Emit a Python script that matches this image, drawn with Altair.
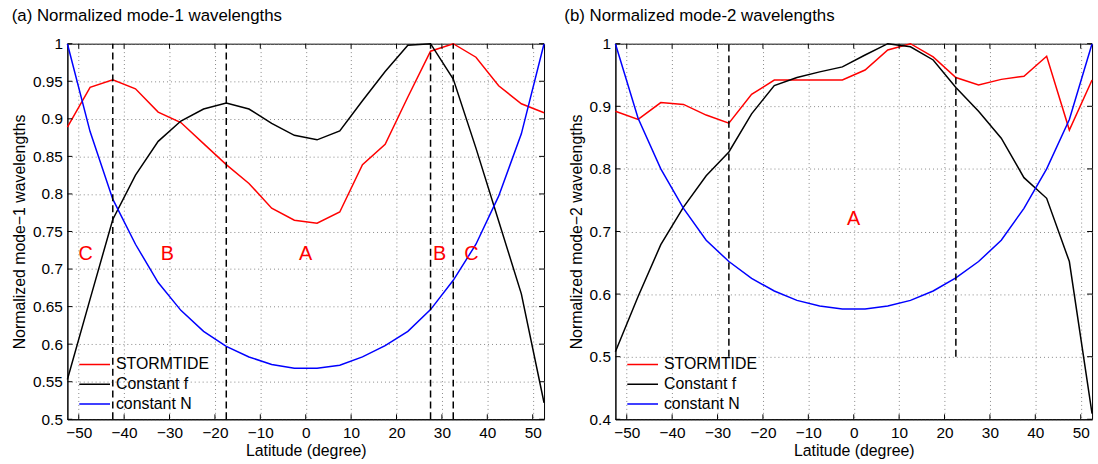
import altair as alt
import pandas as pd

# ---------------- data ----------------
latitude = [-52.5, -47.5, -42.5, -37.5, -32.5, -27.5, -22.5, -17.5, -12.5, -7.5, -2.5,
            2.5, 7.5, 12.5, 17.5, 22.5, 27.5, 32.5, 37.5, 42.5, 47.5, 52.5]

series_names = ["STORMTIDE", "Constant f", "constant N"]
series_colors = ["#ff0000", "#000000", "#0000ff"]

m1_stormtide = [0.889, 0.942, 0.952, 0.940, 0.909, 0.895, 0.867, 0.839, 0.814, 0.781, 0.765,
                0.761, 0.776, 0.839, 0.866, 0.929, 0.990, 1.000, 0.982, 0.944, 0.920, 0.908]
m1_constf = [0.553, 0.660, 0.766, 0.825, 0.870, 0.897, 0.913, 0.921, 0.913, 0.894, 0.878,
             0.872, 0.884, 0.924, 0.963, 0.998, 1.000, 0.953, 0.861, 0.764, 0.667, 0.522]
m1_constN = [1.000, 0.883, 0.793, 0.733, 0.682, 0.645, 0.617, 0.597, 0.583, 0.573, 0.568,
             0.568, 0.572, 0.583, 0.598, 0.617, 0.646, 0.685, 0.733, 0.797, 0.880, 1.000]

m2_stormtide = [0.892, 0.879, 0.906, 0.903, 0.886, 0.873, 0.919, 0.942, 0.942, 0.942, 0.942,
                0.958, 0.990, 1.000, 0.979, 0.946, 0.934, 0.943, 0.948, 0.980, 0.862, 0.942]
m2_constf = [0.508, 0.596, 0.679, 0.739, 0.789, 0.827, 0.888, 0.933, 0.946, 0.955, 0.963,
             0.982, 1.000, 0.995, 0.974, 0.930, 0.892, 0.849, 0.786, 0.753, 0.652, 0.409]
m2_constN = [1.000, 0.881, 0.800, 0.737, 0.686, 0.652, 0.625, 0.605, 0.590, 0.581, 0.576,
             0.576, 0.581, 0.590, 0.605, 0.626, 0.652, 0.686, 0.737, 0.800, 0.879, 1.000]

m1_dashed = [-42.5, -17.5, 27.5, 32.5]
m2_dashed = [-27.5, 22.5]
m2_dashed_range = [0.5, 1.0]

m1_region_lat = [-48.5, -30.5, 0.0, 29.5, 36.5]
m1_region_txt = ["C", "B", "A", "B", "C"]
m2_region_lat = [0.0]
m2_region_txt = ["A"]
region_y = 0.72

x_ticks = [-50, -40, -30, -20, -10, 0, 10, 20, 30, 40, 50]
m1_y_ticks = [0.5, 0.55, 0.6, 0.65, 0.7, 0.75, 0.8, 0.85, 0.9, 0.95, 1.0]
m2_y_ticks = [0.4, 0.5, 0.6, 0.7, 0.8, 0.9, 1.0]

FONT = "Liberation Sans"
W, H = 481, 379
TICK = 5


def panel(title, title_dx, s1, s2, s3, dashed, dash_lo, dash_hi, ydom, yticks, yfmt, ytitle,
          reg_lat, reg_txt):
    rows = []
    for name, vals in zip(series_names, [s1, s2, s3]):
        for la, v in zip(latitude, vals):
            rows.append({"lat": la, "value": v, "series": name})
    df = pd.DataFrame(rows)

    xscale = alt.Scale(domain=[-52.5, 52.5], nice=False, zero=False)
    yscale = alt.Scale(domain=ydom, nice=False, zero=False)

    xaxis = alt.Axis(values=x_ticks, title="Latitude (degree)", grid=True, ticks=False,
                     labelPadding=6, titlePadding=2, format="d")
    yaxis = alt.Axis(values=yticks, title=ytitle, grid=True, ticks=False,
                     labelPadding=5, titlePadding=5, format=yfmt)

    def X(f):
        return alt.X(f, scale=xscale, axis=xaxis)

    def Y(f):
        return alt.Y(f, scale=yscale, axis=yaxis)

    lines = alt.Chart(df).mark_line(strokeWidth=1.5).encode(
        x=X("lat:Q"),
        y=Y("value:Q"),
        color=alt.Color("series:N",
                        scale=alt.Scale(domain=series_names, range=series_colors),
                        legend=alt.Legend(title=None, orient="none", legendX=11, legendY=314,
                                          symbolType="stroke", symbolSize=961,
                                          symbolStrokeWidth=1.5, labelFontSize=16,
                                          labelFont=FONT, labelOffset=5, rowPadding=0,
                                          clipHeight=19.3,
                                          padding=0, labelColor="black")),
        order=alt.Order("lat:Q"),
    )

    ddf = pd.DataFrame({"lat": dashed,
                        "lo": [dash_lo] * len(dashed), "hi": [dash_hi] * len(dashed)})
    dash = alt.Chart(ddf).mark_rule(color="black", strokeWidth=1.5, strokeDash=[7, 4]).encode(
        x=X("lat:Q"),
        y=Y("lo:Q"),
        y2="hi:Q",
    )

    tdf = pd.DataFrame({"lat": reg_lat, "txt": reg_txt, "y": [region_y] * len(reg_lat)})
    text = alt.Chart(tdf).mark_text(color="#ff0000", fontSize=20, font=FONT,
                                    baseline="middle", align="center").encode(
        x=X("lat:Q"),
        y=Y("y:Q"),
        text="txt:N",
    )

    # inside tick marks (MATLAB style), drawn from the tick lists
    xt = pd.DataFrame({"t": x_ticks})
    yt = pd.DataFrame({"t": yticks})
    xb = alt.Chart(xt).mark_rule(color="black", strokeWidth=1).encode(
        x=X("t:Q"), y=alt.value(H), y2=alt.value(H - TICK))
    xtp = alt.Chart(xt).mark_rule(color="black", strokeWidth=1).encode(
        x=X("t:Q"), y=alt.value(0), y2=alt.value(TICK))
    yl = alt.Chart(yt).mark_rule(color="black", strokeWidth=1).encode(
        y=Y("t:Q"), x=alt.value(0), x2=alt.value(TICK))
    yr = alt.Chart(yt).mark_rule(color="black", strokeWidth=1).encode(
        y=Y("t:Q"), x=alt.value(W), x2=alt.value(W - TICK))

    return alt.layer(lines, dash, text, xb, xtp, yl, yr).properties(
        width=W, height=H,
        title=alt.Title(title, anchor="start", frame="bounds", fontSize=17, font=FONT,
                        fontWeight="normal", dx=title_dx, offset=11.5, color="black"),
    )


left = panel("(a) Normalized mode-1 wavelengths", 0, m1_stormtide, m1_constf, m1_constN,
             m1_dashed, 0.5, 1.0, [0.5, 1.0], m1_y_ticks, ".2~f",
             "Normalized mode\u22121 wavelengths", m1_region_lat, m1_region_txt)
right = panel("(b) Normalized mode-2 wavelengths", -4, m2_stormtide, m2_constf, m2_constN,
              m2_dashed, m2_dashed_range[0], m2_dashed_range[1], [0.4, 1.0], m2_y_ticks, ".1~f",
              "Normalized mode\u22122 wavelengths", m2_region_lat, m2_region_txt)

chart = alt.hconcat(left, right, spacing=15).resolve_scale(color="independent").resolve_legend(
    color="independent"
).properties(
    padding={"left": 11, "top": 5, "right": 2, "bottom": 0},
    background="white",
).configure_view(stroke="black", strokeWidth=1).configure_axis(
    labelFont=FONT, titleFont=FONT, labelFontSize=15.5, titleFontSize=16,
    labelColor="black", titleColor="black", titleFontWeight="normal",
    domainColor="black", domainWidth=1,
    gridColor="#888888", gridDash=[1, 3], gridWidth=1, gridOpacity=1,
)

chart.save("out.html", embed_options={"renderer": "svg", "actions": False})
